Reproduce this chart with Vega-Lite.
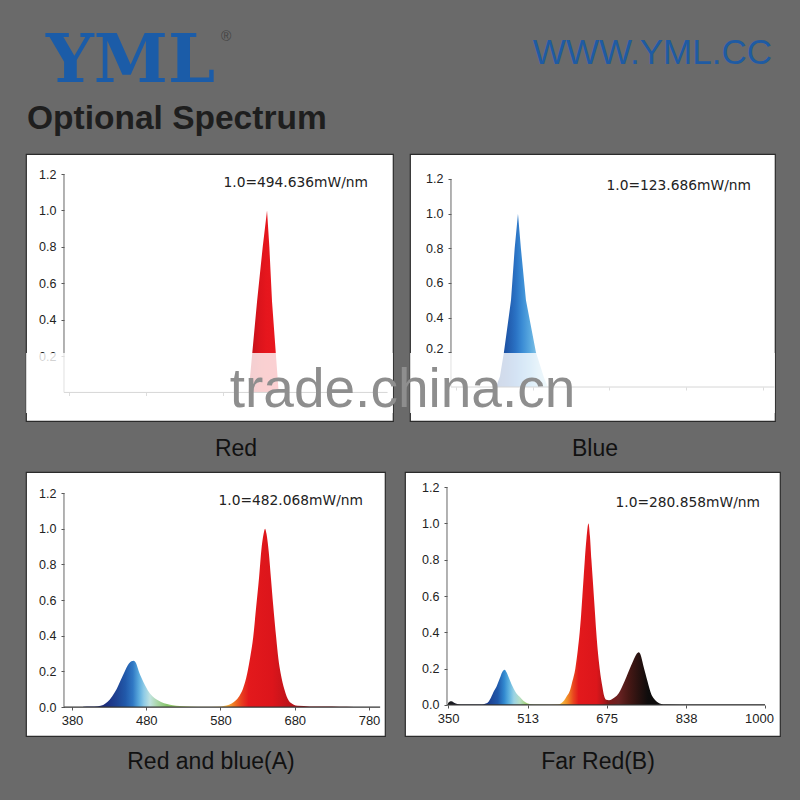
{
  "$schema": "https://vega.github.io/schema/vega-lite/v6.json",
  "background": "#6a6a6a",
  "padding": {"left": 14, "top": 15, "right": 13, "bottom": 15},
  "spacing": 0,
  "datasets": {
    "p1": [
      {"wl": 610, "v": 0}, {"wl": 614, "v": 0}, {"wl": 618.4, "v": 0.2}, {"wl": 625, "v": 0.5},
      {"wl": 632.4, "v": 0.8}, {"wl": 638, "v": 1.0}, {"wl": 641, "v": 0.8}, {"wl": 644.5, "v": 0.5},
      {"wl": 649.7, "v": 0.2}, {"wl": 653.2, "v": 0}, {"wl": 656, "v": 0}
    ],
    "p2": [
      {"wl": 432, "v": 0}, {"wl": 437.3, "v": 0.06}, {"wl": 442.5, "v": 0.2}, {"wl": 451.7, "v": 0.5},
      {"wl": 456.5, "v": 0.8}, {"wl": 460.8, "v": 1.0}, {"wl": 464.6, "v": 0.8}, {"wl": 471.2, "v": 0.5},
      {"wl": 484.2, "v": 0.2}, {"wl": 495, "v": 0.05}, {"wl": 500, "v": 0}
    ],
    "p3": [
      {"wl": 395, "v": 0.002}, {"wl": 405, "v": 0.003}, {"wl": 415, "v": 0.005}, {"wl": 422, "v": 0.012},
      {"wl": 428, "v": 0.03}, {"wl": 434, "v": 0.06}, {"wl": 440, "v": 0.1}, {"wl": 446, "v": 0.155},
      {"wl": 451, "v": 0.2}, {"wl": 456, "v": 0.24}, {"wl": 460, "v": 0.257}, {"wl": 463, "v": 0.26},
      {"wl": 466, "v": 0.248}, {"wl": 470, "v": 0.2}, {"wl": 474, "v": 0.16}, {"wl": 478, "v": 0.125},
      {"wl": 482, "v": 0.095}, {"wl": 488, "v": 0.062}, {"wl": 494, "v": 0.042}, {"wl": 500, "v": 0.029},
      {"wl": 508, "v": 0.017}, {"wl": 516, "v": 0.01}, {"wl": 525, "v": 0.006}, {"wl": 540, "v": 0.003},
      {"wl": 560, "v": 0.002}, {"wl": 575, "v": 0.003}, {"wl": 580, "v": 0.004}, {"wl": 588, "v": 0.009},
      {"wl": 595, "v": 0.02}, {"wl": 600, "v": 0.035}, {"wl": 605, "v": 0.06}, {"wl": 610, "v": 0.1},
      {"wl": 616, "v": 0.19}, {"wl": 620, "v": 0.28}, {"wl": 624, "v": 0.39}, {"wl": 628, "v": 0.56},
      {"wl": 632, "v": 0.73}, {"wl": 635, "v": 0.88}, {"wl": 638, "v": 0.97}, {"wl": 640, "v": 1.0},
      {"wl": 642, "v": 0.97}, {"wl": 645, "v": 0.87}, {"wl": 648, "v": 0.72}, {"wl": 651, "v": 0.57},
      {"wl": 655, "v": 0.39}, {"wl": 658, "v": 0.27}, {"wl": 661, "v": 0.19}, {"wl": 666, "v": 0.1},
      {"wl": 672, "v": 0.035}, {"wl": 678, "v": 0.015}, {"wl": 684, "v": 0.007}, {"wl": 700, "v": 0.004},
      {"wl": 720, "v": 0.003}, {"wl": 740, "v": 0.002}, {"wl": 760, "v": 0.001}, {"wl": 780, "v": 0.001}
    ],
    "p4": [
      {"wl": 350, "v": 0.01}, {"wl": 353, "v": 0.018}, {"wl": 357, "v": 0.02}, {"wl": 361, "v": 0.015},
      {"wl": 366, "v": 0.008}, {"wl": 372, "v": 0.004}, {"wl": 380, "v": 0.002}, {"wl": 400, "v": 0.002},
      {"wl": 420, "v": 0.002}, {"wl": 426, "v": 0.006}, {"wl": 432, "v": 0.015}, {"wl": 438, "v": 0.04},
      {"wl": 444, "v": 0.075}, {"wl": 450, "v": 0.105}, {"wl": 456, "v": 0.145}, {"wl": 461, "v": 0.18},
      {"wl": 466, "v": 0.194}, {"wl": 470, "v": 0.18}, {"wl": 475, "v": 0.148}, {"wl": 480, "v": 0.115},
      {"wl": 485, "v": 0.088}, {"wl": 490, "v": 0.065}, {"wl": 497, "v": 0.045}, {"wl": 505, "v": 0.022},
      {"wl": 514, "v": 0.008}, {"wl": 525, "v": 0.003}, {"wl": 545, "v": 0.002}, {"wl": 565, "v": 0.002},
      {"wl": 575, "v": 0.003}, {"wl": 582, "v": 0.01}, {"wl": 588, "v": 0.025}, {"wl": 594, "v": 0.05},
      {"wl": 600, "v": 0.08}, {"wl": 605, "v": 0.13}, {"wl": 611, "v": 0.2}, {"wl": 616, "v": 0.3},
      {"wl": 620, "v": 0.4}, {"wl": 623, "v": 0.5}, {"wl": 625.5, "v": 0.6}, {"wl": 628, "v": 0.7},
      {"wl": 630.5, "v": 0.8}, {"wl": 634, "v": 0.92}, {"wl": 638, "v": 1.0}, {"wl": 641, "v": 0.93},
      {"wl": 644, "v": 0.8}, {"wl": 646.5, "v": 0.7}, {"wl": 649, "v": 0.6}, {"wl": 651.5, "v": 0.5},
      {"wl": 654, "v": 0.4}, {"wl": 657, "v": 0.3}, {"wl": 661, "v": 0.2}, {"wl": 664, "v": 0.14},
      {"wl": 666.5, "v": 0.1}, {"wl": 670, "v": 0.05}, {"wl": 674.5, "v": 0.028}, {"wl": 680, "v": 0.026},
      {"wl": 686, "v": 0.032}, {"wl": 692, "v": 0.042}, {"wl": 700, "v": 0.065}, {"wl": 706, "v": 0.095},
      {"wl": 712, "v": 0.13}, {"wl": 719, "v": 0.176}, {"wl": 725, "v": 0.215}, {"wl": 730, "v": 0.245},
      {"wl": 736, "v": 0.278}, {"wl": 741, "v": 0.29}, {"wl": 745, "v": 0.275}, {"wl": 750, "v": 0.222},
      {"wl": 755, "v": 0.17}, {"wl": 759, "v": 0.13}, {"wl": 763, "v": 0.09}, {"wl": 767, "v": 0.057},
      {"wl": 772, "v": 0.035}, {"wl": 777, "v": 0.02}, {"wl": 784, "v": 0.008}, {"wl": 791, "v": 0.003},
      {"wl": 800, "v": 0.002}, {"wl": 850, "v": 0.001}, {"wl": 900, "v": 0.001}, {"wl": 1000, "v": 0.001}
    ],
    "n1": [{"note": "1.0=494.636mW/nm"}],
    "n2": [{"note": "1.0=123.686mW/nm"}],
    "n3": [{"note": "1.0=482.068mW/nm"}],
    "n4": [{"note": "1.0=280.858mW/nm"}],
    "blank": [{"k": 1}]
  },
  "vconcat": [
    {
      "spacing": 0,
      "vconcat": [
        {
          "spacing": 0,
          "hconcat": [
            {"width": 206, "height": 83, "data": {"name": "blank"}, "mark": {"type": "point", "opacity": 0},
             "title": {"text": "YML", "orient": "bottom", "anchor": "start", "baseline": "top", "offset": -69, "dx": 32,
                       "font": "DejaVu Serif", "fontSize": 67, "fontWeight": "bold", "color": "#1b5ca8"}},
            {"width": 24, "height": 83, "data": {"name": "blank"}, "mark": {"type": "point", "opacity": 0},
             "title": {"text": "®", "orient": "bottom", "anchor": "start", "baseline": "top", "offset": -68, "dx": 1,
                       "font": "Liberation Sans", "fontSize": 14, "fontWeight": "normal", "color": "#444444"}},
            {"width": 543, "height": 83, "data": {"name": "blank"}, "mark": {"type": "point", "opacity": 0},
             "title": {"text": "WWW.YML.CC", "orient": "bottom", "anchor": "end", "baseline": "top", "offset": -62, "dx": -15,
                       "font": "Liberation Sans", "fontSize": 35, "fontWeight": "normal", "color": "#1f5ba3"}}
          ]
        },
        {"width": 773, "height": 55, "data": {"name": "blank"}, "mark": {"type": "point", "opacity": 0},
         "title": {"text": "Optional Spectrum", "orient": "bottom", "anchor": "start", "baseline": "top", "offset": -50, "dx": 13,
                   "font": "Liberation Sans", "fontSize": 33.5, "fontWeight": "bold", "color": "#1e1e1e"}}
      ]
    },
    {
      "spacing": 0,
      "title": {"text": "trade.china.cn", "orient": "bottom", "anchor": "middle", "baseline": "top", "offset": -58,
                "font": "Liberation Sans", "fontSize": 55, "fontWeight": "normal", "color": "#8e8e8e", "zindex": 1},
      "hconcat": [
        {"width": 11, "height": 267, "data": {"name": "blank"}, "mark": {"type": "point", "opacity": 0}},
        {
          "width": 367, "height": 267,
          "view": {"fill": "white", "stroke": "#2b2b2b", "strokeWidth": 1.2},
          "layer": [
            {"data": {"name": "p1"},
             "mark": {"type": "area", "interpolate": "linear",
                      "fill": {"gradient": "linear", "x1": 0, "y1": 0, "x2": 1, "y2": 0,
                               "stops": [{"offset": 0, "color": "#c0101a"}, {"offset": 0.2, "color": "#c8111a"}, {"offset": 0.4, "color": "#dc141c"}, {"offset": 0.6, "color": "#e6161d"}, {"offset": 1, "color": "#e8181f"}]}},
             "encoding": {
               "x": {"field": "wl", "type": "quantitative", "scale": {"domain": [324, 802.1], "nice": false, "zero": false},
                     "axis": {"orient": "bottom", "offset": -28.5, "values": [380, 480, 580, 680, 780], "labels": false, "title": null, "domain": false, "grid": false, "tickSize": 3}},
               "y": {"field": "v", "type": "quantitative", "scale": {"domain": [-0.157, 1.31], "nice": false, "zero": false},
                     "axis": {"orient": "left", "offset": -38, "values": [0.2, 0.4, 0.6, 0.8, 1.0, 1.2], "format": ".1f", "title": null, "domain": false, "grid": false, "tickSize": 3, "labelPadding": 5, "labelFontSize": 12.5, "labelOverlap": false}}
             }},
            {"data": {"name": "n1"}, "mark": {"type": "rule", "color": "#333333", "strokeWidth": 1},
             "encoding": {"x": {"datum": 373.5, "type": "quantitative"}, "x2": {"datum": 795}, "y": {"datum": 0, "type": "quantitative"}}},
            {"data": {"name": "n1"}, "mark": {"type": "rule", "color": "#666666", "strokeWidth": 1},
             "encoding": {"x": {"datum": 373.5, "type": "quantitative"}, "y": {"datum": 0, "type": "quantitative"}, "y2": {"datum": 1.2}}},
            {"data": {"name": "n1"}, "mark": {"type": "text", "align": "right", "baseline": "middle", "font": "DejaVu Sans", "fontSize": 13.8, "color": "#222222"},
             "encoding": {"text": {"field": "note"}, "x": {"datum": 769.5, "type": "quantitative"}, "y": {"datum": 1.15, "type": "quantitative"}}},
            {"data": {"name": "n1"}, "mark": {"type": "rect", "fill": "white", "opacity": 0.8},
             "encoding": {"x": {"datum": 324, "type": "quantitative"}, "x2": {"datum": 802.1}, "y": {"datum": 0.217, "type": "quantitative"}, "y2": {"datum": -0.113}}}
          ]
        },
        {"width": 15, "height": 267, "data": {"name": "blank"}, "mark": {"type": "point", "opacity": 0}},
        {
          "width": 365, "height": 267,
          "view": {"fill": "white", "stroke": "#2b2b2b", "strokeWidth": 1.2},
          "layer": [
            {"data": {"name": "p2"},
             "mark": {"type": "area", "interpolate": "linear",
                      "fill": {"gradient": "linear", "x1": 0, "y1": 0, "x2": 1, "y2": 0,
                               "stops": [{"offset": 0, "color": "#1c4590"}, {"offset": 0.2, "color": "#1f56a8"}, {"offset": 0.38, "color": "#2a72c4"}, {"offset": 0.5, "color": "#3a8bd4"}, {"offset": 0.65, "color": "#58a8df"}, {"offset": 0.8, "color": "#86c4e6"}, {"offset": 1, "color": "#b8e0ee"}]}},
             "encoding": {
               "x": {"field": "wl", "type": "quantitative", "scale": {"domain": [320.1, 795.7], "nice": false, "zero": false},
                     "axis": {"orient": "bottom", "offset": -34, "values": [380, 480, 580, 680, 780], "labels": false, "title": null, "domain": false, "grid": false, "tickSize": 3}},
               "y": {"field": "v", "type": "quantitative", "scale": {"domain": [-0.196, 1.344], "nice": false, "zero": false},
                     "axis": {"orient": "left", "offset": -41, "values": [0.2, 0.4, 0.6, 0.8, 1.0, 1.2], "format": ".1f", "title": null, "domain": false, "grid": false, "tickSize": 3, "labelPadding": 5, "labelFontSize": 12.5, "labelOverlap": false,
                              "labelBaseline": {"condition": {"test": "datum.value < 0.3", "value": "alphabetic"}, "value": "middle"}}}
             }},
            {"data": {"name": "n2"}, "mark": {"type": "rule", "color": "#333333", "strokeWidth": 1},
             "encoding": {"x": {"datum": 373.5, "type": "quantitative"}, "x2": {"datum": 795}, "y": {"datum": 0, "type": "quantitative"}}},
            {"data": {"name": "n2"}, "mark": {"type": "rule", "color": "#666666", "strokeWidth": 1},
             "encoding": {"x": {"datum": 373.5, "type": "quantitative"}, "y": {"datum": 0, "type": "quantitative"}, "y2": {"datum": 1.2}}},
            {"data": {"name": "n2"}, "mark": {"type": "text", "align": "right", "baseline": "middle", "font": "DejaVu Sans", "fontSize": 13.8, "color": "#222222"},
             "encoding": {"text": {"field": "note"}, "x": {"datum": 764.4, "type": "quantitative"}, "y": {"datum": 1.159, "type": "quantitative"}}},
            {"data": {"name": "n2"}, "mark": {"type": "rect", "fill": "white", "opacity": 0.8},
             "encoding": {"x": {"datum": 320.1, "type": "quantitative"}, "x2": {"datum": 795.7}, "y": {"datum": 0.196, "type": "quantitative"}, "y2": {"datum": -0.15}}}
          ]
        },
        {"width": 15, "height": 267, "data": {"name": "blank"}, "mark": {"type": "point", "opacity": 0}}
      ]
    },
    {
      "spacing": 0,
      "hconcat": [
        {"width": 398, "height": 49, "data": {"name": "blank"}, "mark": {"type": "point", "opacity": 0},
         "title": {"text": "Red", "orient": "bottom", "anchor": "middle", "baseline": "top", "offset": -33, "dx": 23,
                   "font": "Liberation Sans", "fontSize": 23, "fontWeight": "normal", "color": "#111111"}},
        {"width": 375, "height": 49, "data": {"name": "blank"}, "mark": {"type": "point", "opacity": 0},
         "title": {"text": "Blue", "orient": "bottom", "anchor": "middle", "baseline": "top", "offset": -33, "dx": -4.5,
                   "font": "Liberation Sans", "fontSize": 23, "fontWeight": "normal", "color": "#111111"}}
      ]
    },
    {
      "spacing": 0,
      "hconcat": [
        {"width": 11, "height": 264, "data": {"name": "blank"}, "mark": {"type": "point", "opacity": 0}},
        {
          "width": 359, "height": 264,
          "view": {"fill": "white", "stroke": "#2b2b2b", "strokeWidth": 1.2},
          "layer": [
            {"data": {"name": "p3"},
             "mark": {"type": "area", "interpolate": "monotone",
                      "fill": {"gradient": "linear", "x1": 0, "y1": 0, "x2": 1, "y2": 0,
                               "stops": [
                                 {"offset": 0, "color": "#1a1f6b"}, {"offset": 0.078, "color": "#1c2d7e"}, {"offset": 0.117, "color": "#1e4393"},
                                 {"offset": 0.148, "color": "#2159aa"}, {"offset": 0.174, "color": "#3078c4"}, {"offset": 0.195, "color": "#5aaadd"},
                                 {"offset": 0.213, "color": "#8fcbe6"}, {"offset": 0.234, "color": "#c0e3e0"}, {"offset": 0.26, "color": "#a9d6a6"},
                                 {"offset": 0.294, "color": "#86c46a"}, {"offset": 0.338, "color": "#aad06e"}, {"offset": 0.403, "color": "#e6e898"},
                                 {"offset": 0.468, "color": "#fde6a0"}, {"offset": 0.501, "color": "#f8b540"}, {"offset": 0.527, "color": "#f07a24"},
                                 {"offset": 0.553, "color": "#e8401f"}, {"offset": 0.579, "color": "#e3191c"}, {"offset": 0.662, "color": "#dc151b"},
                                 {"offset": 0.74, "color": "#b3141a"}, {"offset": 1, "color": "#6a1414"}]}},
             "encoding": {
               "x": {"field": "wl", "type": "quantitative", "scale": {"domain": [318.05, 801.55], "nice": false, "zero": false},
                     "axis": {"orient": "bottom", "offset": -29, "values": [380, 480, 580, 680, 780], "format": "d", "title": null, "domain": false, "grid": false, "tickSize": 3, "labelPadding": 4, "labelFontSize": 13, "labelFlush": false, "labelOverlap": false}},
               "y": {"field": "v", "type": "quantitative", "scale": {"domain": [-0.162, 1.318], "nice": false, "zero": false},
                     "axis": {"orient": "left", "offset": -38, "values": [0, 0.2, 0.4, 0.6, 0.8, 1.0, 1.2], "format": ".1f", "title": null, "domain": false, "grid": false, "tickSize": 3, "labelPadding": 5, "labelFontSize": 12.5, "labelOverlap": false}}
             }},
            {"data": {"name": "n3"}, "mark": {"type": "rule", "color": "#333333", "strokeWidth": 1.2},
             "encoding": {"x": {"datum": 369.2, "type": "quantitative"}, "x2": {"datum": 795}, "y": {"datum": 0, "type": "quantitative"}}},
            {"data": {"name": "n3"}, "mark": {"type": "rule", "color": "#666666", "strokeWidth": 1},
             "encoding": {"x": {"datum": 369.2, "type": "quantitative"}, "y": {"datum": 0, "type": "quantitative"}, "y2": {"datum": 1.2}}},
            {"data": {"name": "n3"}, "mark": {"type": "text", "align": "right", "baseline": "middle", "font": "DejaVu Sans", "fontSize": 13.8, "color": "#222222"},
             "encoding": {"text": {"field": "note"}, "x": {"datum": 771.9, "type": "quantitative"}, "y": {"datum": 1.156, "type": "quantitative"}}}
          ]
        },
        {"width": 18, "height": 264, "data": {"name": "blank"}, "mark": {"type": "point", "opacity": 0}},
        {
          "width": 375, "height": 264,
          "view": {"fill": "white", "stroke": "#2b2b2b", "strokeWidth": 1.2},
          "layer": [
            {"data": {"name": "p4"},
             "mark": {"type": "area", "interpolate": "monotone",
                      "fill": {"gradient": "linear", "x1": 0, "y1": 0, "x2": 1, "y2": 0,
                               "stops": [
                                 {"offset": 0, "color": "#1a1a1a"}, {"offset": 0.077, "color": "#232a55"}, {"offset": 0.123, "color": "#1c3b8c"},
                                 {"offset": 0.157, "color": "#1f58aa"}, {"offset": 0.177, "color": "#3188cf"}, {"offset": 0.192, "color": "#5cb1df"},
                                 {"offset": 0.208, "color": "#9ad2e4"}, {"offset": 0.226, "color": "#b6dfc8"}, {"offset": 0.246, "color": "#a2d07a"},
                                 {"offset": 0.277, "color": "#c9dc84"}, {"offset": 0.323, "color": "#fbeaa5"}, {"offset": 0.354, "color": "#f9c64a"},
                                 {"offset": 0.377, "color": "#f08a26"}, {"offset": 0.395, "color": "#e9471f"}, {"offset": 0.412, "color": "#e3191c"},
                                 {"offset": 0.469, "color": "#dc161b"}, {"offset": 0.489, "color": "#b8161a"}, {"offset": 0.508, "color": "#7e1a1a"},
                                 {"offset": 0.538, "color": "#6a2222"}, {"offset": 0.569, "color": "#481815"}, {"offset": 0.6, "color": "#2a1210"},
                                 {"offset": 0.631, "color": "#0e0c0c"}, {"offset": 1, "color": "#111111"}]}},
             "encoding": {
               "x": {"field": "wl", "type": "quantitative", "scale": {"domain": [261.8, 1030.7], "nice": false, "zero": false},
                     "axis": {"orient": "bottom", "offset": -31, "values": [350, 513, 675, 838, 1000], "format": "d", "title": null, "domain": false, "grid": false, "tickSize": 3, "labelPadding": 4, "labelFontSize": 13, "labelFlush": false, "labelOverlap": false,
                              "labelOffset": {"condition": {"test": "datum.value == 1000", "value": -6}, "value": 0}}},
               "y": {"field": "v", "type": "quantitative", "scale": {"domain": [-0.171, 1.283], "nice": false, "zero": false},
                     "axis": {"orient": "left", "offset": -42, "values": [0, 0.2, 0.4, 0.6, 0.8, 1.0, 1.2], "format": ".1f", "title": null, "domain": false, "grid": false, "tickSize": 3, "labelPadding": 5, "labelFontSize": 12.5, "labelOverlap": false}}
             }},
            {"data": {"name": "n4"}, "mark": {"type": "rule", "color": "#333333", "strokeWidth": 1.2},
             "encoding": {"x": {"datum": 347.9, "type": "quantitative"}, "x2": {"datum": 1000}, "y": {"datum": 0, "type": "quantitative"}}},
            {"data": {"name": "n4"}, "mark": {"type": "rule", "color": "#666666", "strokeWidth": 1},
             "encoding": {"x": {"datum": 347.9, "type": "quantitative"}, "y": {"datum": 0, "type": "quantitative"}, "y2": {"datum": 1.2}}},
            {"data": {"name": "n4"}, "mark": {"type": "text", "align": "right", "baseline": "middle", "font": "DejaVu Sans", "fontSize": 13.8, "color": "#222222"},
             "encoding": {"text": {"field": "note"}, "x": {"datum": 989.7, "type": "quantitative"}, "y": {"datum": 1.112, "type": "quantitative"}}}
          ]
        },
        {"width": 10, "height": 264, "data": {"name": "blank"}, "mark": {"type": "point", "opacity": 0}}
      ]
    },
    {
      "spacing": 0,
      "hconcat": [
        {"width": 398, "height": 52, "data": {"name": "blank"}, "mark": {"type": "point", "opacity": 0},
         "title": {"text": "Red and blue(A)", "orient": "bottom", "anchor": "middle", "baseline": "top", "offset": -38, "dx": -2,
                   "font": "Liberation Sans", "fontSize": 23, "fontWeight": "normal", "color": "#111111"}},
        {"width": 375, "height": 52, "data": {"name": "blank"}, "mark": {"type": "point", "opacity": 0},
         "title": {"text": "Far Red(B)", "orient": "bottom", "anchor": "middle", "baseline": "top", "offset": -38, "dx": -1.5,
                   "font": "Liberation Sans", "fontSize": 23, "fontWeight": "normal", "color": "#111111"}}
      ]
    }
  ],
  "config": {
    "view": {"fill": "white", "stroke": null},
    "axis": {"labelFont": "Liberation Sans", "labelColor": "#222222", "tickColor": "#555555", "tickWidth": 1}
  }
}
